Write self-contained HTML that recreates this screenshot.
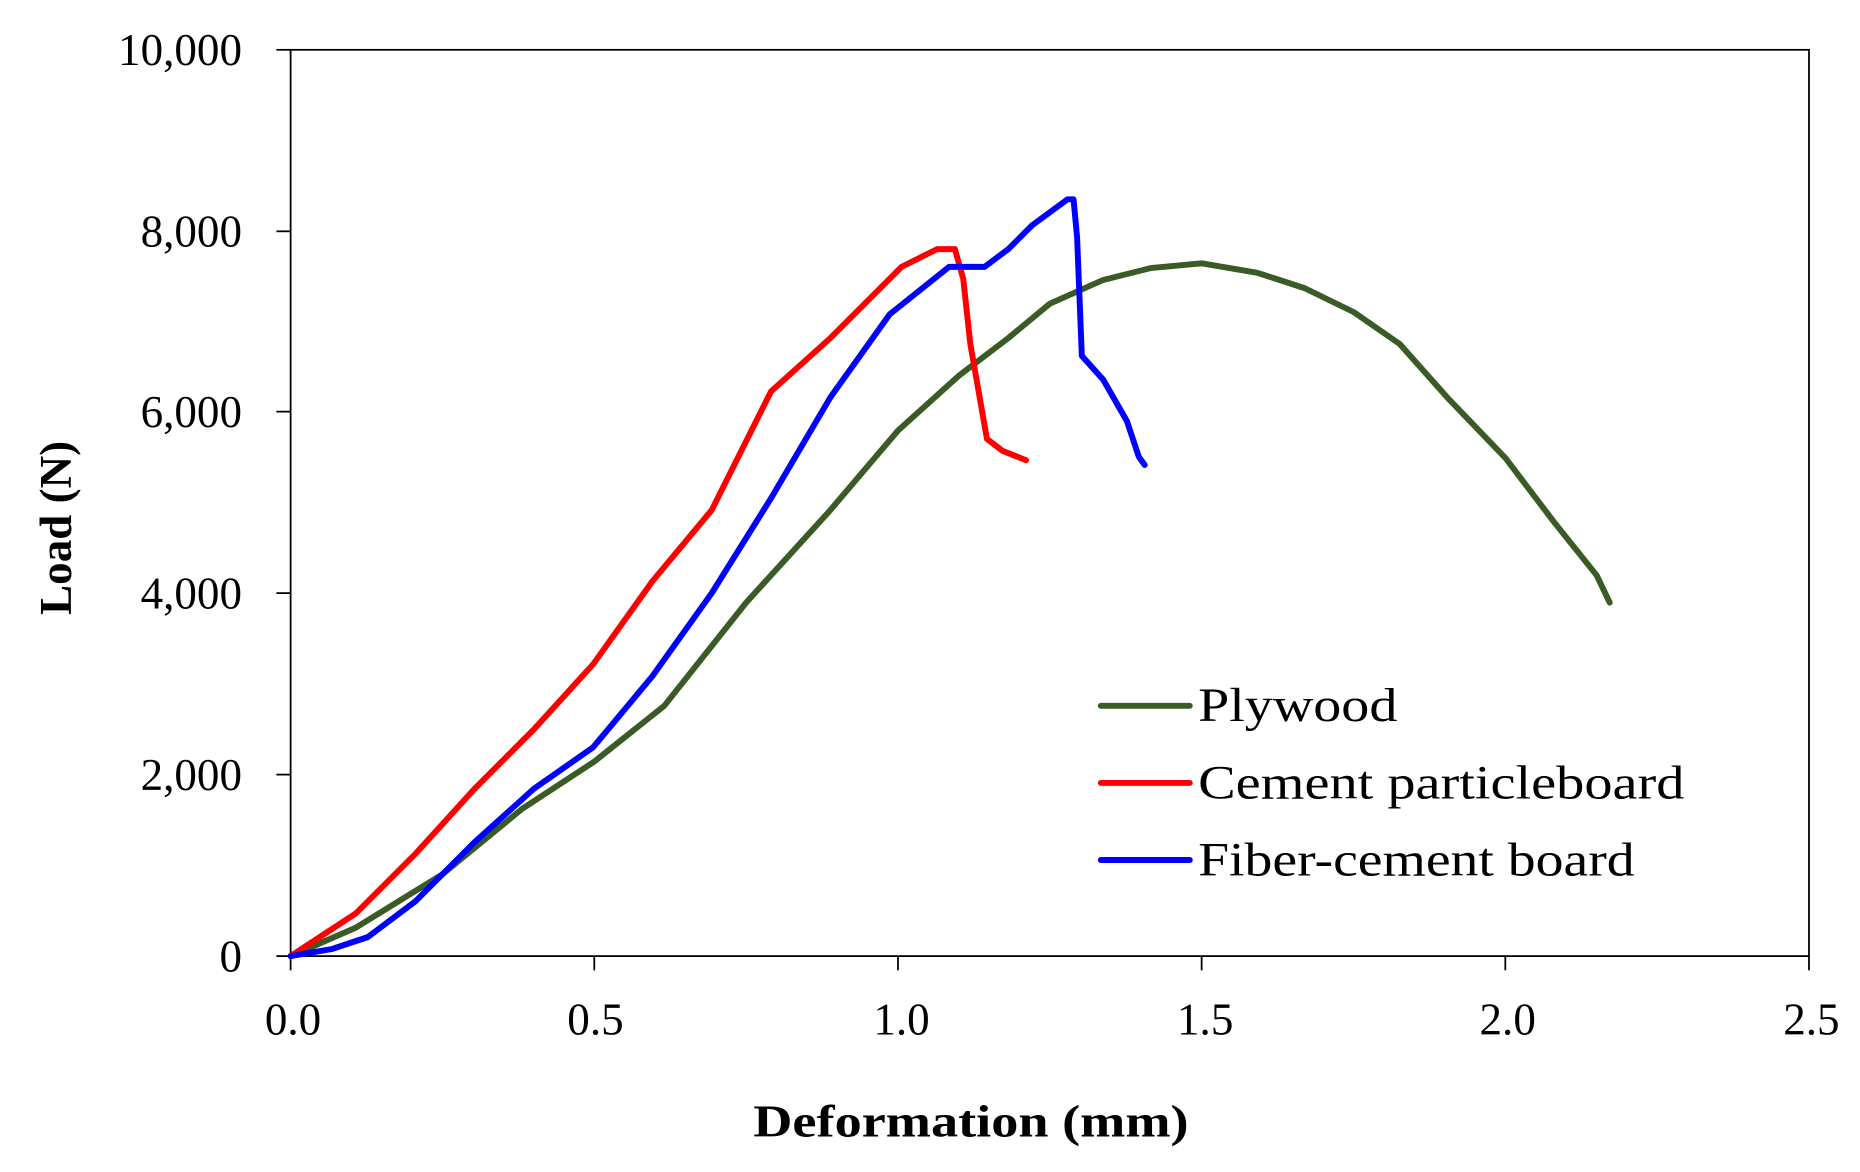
<!DOCTYPE html>
<html><head><style>html,body{margin:0;padding:0;background:#fff}svg{display:block}</style></head>
<body>
<svg width="1860" height="1172" viewBox="0 0 1568 988" preserveAspectRatio="none" xmlns="http://www.w3.org/2000/svg" font-family="Liberation Serif, serif">
<rect x="245" y="42" width="1280" height="764" fill="#fff" stroke="#000" stroke-width="1.5"/>
<g stroke="#000" stroke-width="1.5">
<line x1="233" y1="42" x2="245" y2="42"/><line x1="233" y1="195" x2="245" y2="195"/><line x1="233" y1="347" x2="245" y2="347"/><line x1="233" y1="500" x2="245" y2="500"/><line x1="233" y1="653" x2="245" y2="653"/><line x1="233" y1="806" x2="245" y2="806"/>
<line x1="245" y1="806" x2="245" y2="818"/><line x1="501" y1="806" x2="501" y2="818"/><line x1="757" y1="806" x2="757" y2="818"/><line x1="1013" y1="806" x2="1013" y2="818"/><line x1="1269" y1="806" x2="1269" y2="818"/><line x1="1525" y1="806" x2="1525" y2="818"/>
</g>
<g font-size="38" text-anchor="end">
<text x="204" y="55">10,000</text><text x="204" y="208">8,000</text><text x="204" y="360">6,000</text><text x="204" y="513">4,000</text><text x="204" y="666">2,000</text><text x="204" y="819">0</text>
</g>
<g font-size="38" text-anchor="middle">
<text x="247" y="872">0.0</text><text x="502" y="872">0.5</text><text x="760" y="872">1.0</text><text x="1016" y="872">1.5</text><text x="1271" y="872">2.0</text><text x="1527" y="872">2.5</text>
</g>
<text x="635" y="958" font-size="38" font-weight="bold" textLength="367" lengthAdjust="spacingAndGlyphs">Deformation (mm)</text>
<text transform="translate(60,445) rotate(-90)" font-size="38" font-weight="bold" text-anchor="middle">Load (N)</text>
<g fill="none" stroke-width="5" stroke-linejoin="round" stroke-linecap="round">
<polyline stroke="#3a5a26" points="245,806 300,782 373,737 440,682 501,642 560,595 629,508 700,430 757,363 808,317 850,285 885,256 930,236 970,226 1013,222 1060,230 1100,243 1141,263 1180,290 1220,335 1269,386 1310,440 1346,485 1357,508"/>
<polyline stroke="#ff0000" points="245,806 300,770 350,720 400,665 450,615 500,560 550,490 600,430 650,330 700,285 760,225 790,210 805,210 812,235 818,290 825,330 832,370 845,380 865,388"/>
<polyline stroke="#0000ff" points="245,806 280,800 310,790 350,760 400,710 450,665 500,630 550,570 600,500 650,420 700,335 750,265 800,225 830,225 850,210 870,190 900,168 905,168 908,200 912,300 930,320 950,355 960,385 965,392"/>
<line x1="928" y1="595" x2="1003" y2="595" stroke="#3a5a26"/>
<line x1="928" y1="660" x2="1003" y2="660" stroke="#ff0000"/>
<line x1="928" y1="725" x2="1003" y2="725" stroke="#0000ff"/>
</g>
<g font-size="40">
<text x="1010" y="608" textLength="168" lengthAdjust="spacingAndGlyphs">Plywood</text><text x="1010" y="673" textLength="410" lengthAdjust="spacingAndGlyphs">Cement particleboard</text><text x="1010" y="738" textLength="368" lengthAdjust="spacingAndGlyphs">Fiber-cement board</text>
</g>
</svg>
</body></html>
